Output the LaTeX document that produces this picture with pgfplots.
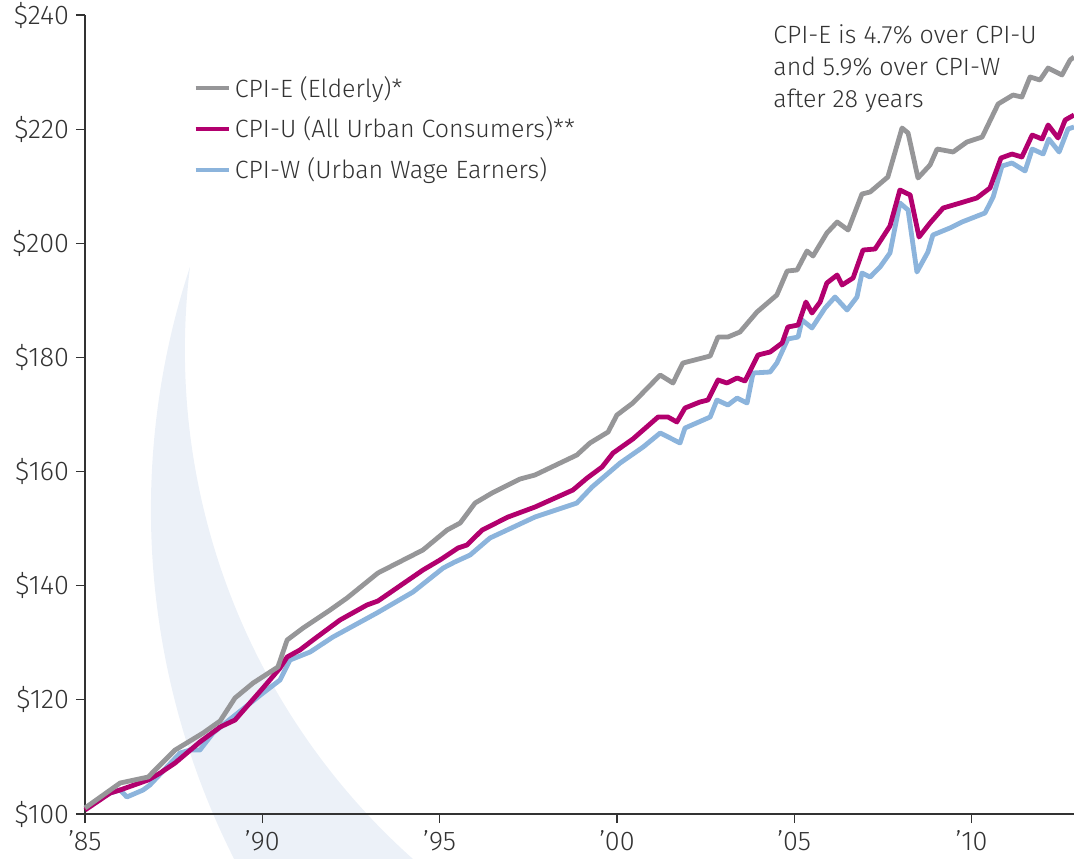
\documentclass[border=0pt]{standalone}
\usepackage{fontspec}
\setmainfont{Fira Sans Light}
\usepackage{pgfplots}
\pgfplotsset{compat=1.18}
\definecolor{cpie}{RGB}{150,150,152}
\definecolor{cpiu}{RGB}{178,0,110}
\definecolor{cpiw}{RGB}{140,180,220}
\definecolor{moon}{RGB}{236,241,248}
\definecolor{txt}{RGB}{51,51,51}
\begin{document}
\begin{tikzpicture}
\begin{axis}[
  set layers,
  scale only axis, width=494.5pt, height=399.5pt,
  xmin=1985, xmax=2012.89, ymin=100, ymax=240,
  axis x line*=bottom, axis y line*=left,
  axis line style={draw=txt, line width=0.6pt},
  xtick={1985,1990,1995,2000,2005,2010},
  xticklabels={’85,’90,’95,’00,’05,’10},
  ytick={100,120,140,160,180,200,220,240},
  yticklabels={\$100,\$120,\$140,\$160,\$180,\$200,\$220,\$240},
  tick align=outside, major tick length=4.5pt,
  tick style={draw=txt, line width=0.6pt},
  ticklabel style={font=\fontsize{13.5}{16}\selectfont, text=txt},
  xticklabel style={inner sep=2pt, yshift=-1.5pt},
  clip=false,
  legend style={at={(rel axis cs:0.109,0.929)}, anchor=north west, draw=none, fill=none,
    inner sep=0pt, row sep=4.5pt, nodes={inner sep=2pt, text=txt},
    font=\fontsize{12.5}{15}\selectfont},
  reverse legend,
  legend cell align=left,
  legend image code/.code={\draw[#1] (0pt,0pt) -- (16.5pt,0pt);},
]
\begin{pgfonlayer}{axis background}
\fill[moon] (axis cs:1987.96,195.85) arc[start angle=161.73, end angle=208.54, radius=387.3pt]
  -- (axis cs:1994.946,88.44) arc[start angle=231.02, end angle=172.99, radius=340.75pt] -- cycle;
\end{pgfonlayer}

\addplot[cpiw, line width=2.4pt, line join=round] coordinates {
(1985.00,101.05) (1985.71,103.68) (1985.99,104.21) (1986.18,102.98) (1986.64,104.21) (1986.83,105.08)
(1987.68,110.69) (1987.96,111.21) (1988.24,111.21) (1988.61,114.19) (1989.17,117.00) (1990.02,121.20)
(1990.50,123.48) (1990.78,126.98) (1991.35,128.39) (1991.99,131.01) (1993.23,135.22) (1994.25,138.90)
(1995.10,143.10) (1995.43,144.16) (1995.86,145.38) (1996.42,148.36) (1997.69,152.04) (1998.87,154.49)
(1999.30,157.30) (2000.09,161.50) (2000.74,164.31) (2001.22,166.76) (2001.78,165.01) (2001.92,167.63)
(2002.63,169.56) (2002.82,172.54) (2003.13,171.66) (2003.39,172.89) (2003.67,172.02) (2003.84,177.27)
(2004.32,177.45) (2004.51,179.02) (2004.82,183.23) (2005.11,183.58) (2005.22,186.56) (2005.50,185.16)
(2005.87,188.66) (2006.15,190.59) (2006.49,188.31) (2006.77,190.59) (2006.91,194.79) (2007.14,194.09)
(2007.42,195.85) (2007.70,198.30) (2007.98,207.06) (2008.21,205.83) (2008.46,194.97) (2008.77,198.47)
(2008.91,201.45) (2009.39,202.68) (2009.73,203.73) (2010.38,205.31) (2010.61,208.11) (2010.86,213.54)
(2011.14,214.07) (2011.51,212.67) (2011.71,216.52) (2012.02,215.64) (2012.18,218.27) (2012.47,216.00)
(2012.72,220.02) (2012.89,220.38)};
\addlegendentry{CPI-W (Urban Wage Earners)}

\addplot[cpiu, line width=2.4pt, line join=round] coordinates {
(1985.00,100.70) (1985.71,103.68) (1985.99,104.21) (1986.78,105.96) (1987.12,107.18) (1987.54,108.94)
(1988.24,112.62) (1988.81,115.24) (1989.23,116.47) (1990.02,122.08) (1990.50,125.58) (1990.70,127.51)
(1991.06,128.74) (1991.43,130.49) (1992.19,133.99) (1992.95,136.62) (1993.26,137.32) (1994.53,142.75)
(1995.01,144.51) (1995.52,146.61) (1995.77,147.13) (1996.20,149.76) (1996.93,152.04) (1997.69,153.79)
(1998.76,156.77) (1999.16,158.87) (1999.58,160.80) (1999.89,163.25) (2000.45,165.71) (2001.16,169.56)
(2001.44,169.56) (2001.69,168.69) (2001.92,171.14) (2002.34,172.19) (2002.57,172.54) (2002.85,176.05)
(2003.10,175.52) (2003.39,176.40) (2003.61,175.87) (2003.98,180.43) (2004.32,180.95) (2004.66,182.53)
(2004.82,185.33) (2005.11,185.68) (2005.33,189.71) (2005.50,187.78) (2005.73,189.71) (2005.92,193.04)
(2006.21,194.44) (2006.35,192.69) (2006.66,193.92) (2006.94,198.82) (2007.28,199.00) (2007.70,203.03)
(2007.98,209.34) (2008.27,208.46) (2008.52,201.10) (2008.83,203.56) (2009.20,206.18) (2009.68,207.06)
(2010.15,207.94) (2010.52,209.69) (2010.83,214.94) (2011.14,215.64) (2011.42,215.12) (2011.71,218.97)
(2011.99,218.27) (2012.16,220.73) (2012.44,218.45) (2012.64,221.60) (2012.89,222.48)};
\addlegendentry{CPI-U (All Urban Consumers)**}

\addplot[cpie, line width=2.4pt, line join=round] coordinates {
(1985.00,101.05) (1985.99,105.43) (1986.78,106.48) (1987.54,111.21) (1988.33,114.19) (1988.81,116.30)
(1989.23,120.33) (1989.74,122.95) (1990.44,125.76) (1990.70,130.49) (1991.15,132.59) (1991.91,135.74)
(1992.39,137.85) (1993.26,142.23) (1994.53,146.26) (1995.21,149.76) (1995.58,150.99) (1996.00,154.49)
(1996.48,156.25) (1997.27,158.70) (1997.69,159.40) (1998.87,162.90) (1999.24,165.01) (1999.75,166.93)
(2000.00,169.91) (2000.45,172.02) (2001.22,176.92) (2001.58,175.52) (2001.86,179.02) (2002.63,180.25)
(2002.85,183.58) (2003.13,183.58) (2003.47,184.46) (2003.95,187.96) (2004.51,190.94) (2004.80,195.14)
(2005.08,195.32) (2005.36,198.65) (2005.53,197.77) (2005.92,201.80) (2006.21,203.73) (2006.52,202.33)
(2006.91,208.64) (2007.14,208.99) (2007.64,211.62) (2008.04,220.20) (2008.21,219.33) (2008.49,211.44)
(2008.83,213.72) (2009.03,216.52) (2009.48,216.00) (2009.87,217.75) (2010.30,218.62) (2010.75,224.41)
(2011.17,225.98) (2011.42,225.63) (2011.65,229.14) (2011.93,228.61) (2012.16,230.71) (2012.55,229.49)
(2012.78,232.12) (2012.89,232.64)};
\addlegendentry{CPI-E (Elderly)*}

\node[anchor=north west, inner sep=0pt, align=left, font=\fontsize{12.5}{16}\selectfont, text=txt]
  at (axis cs:2004.40,238.4) {CPI-E is 4.7\% over CPI-U\\and 5.9\% over CPI-W\\after 28 years};

\coordinate (SW) at (rel axis cs:0,0);
\coordinate (NE) at (rel axis cs:1,1);
\end{axis}
\pgfresetboundingbox
\path (SW) ++(-42.5pt,-22pt) coordinate (BL);
\path (NE) ++(0pt,7.5pt) coordinate (TR);
\useasboundingbox (BL) rectangle (TR);
\end{tikzpicture}
\end{document}
